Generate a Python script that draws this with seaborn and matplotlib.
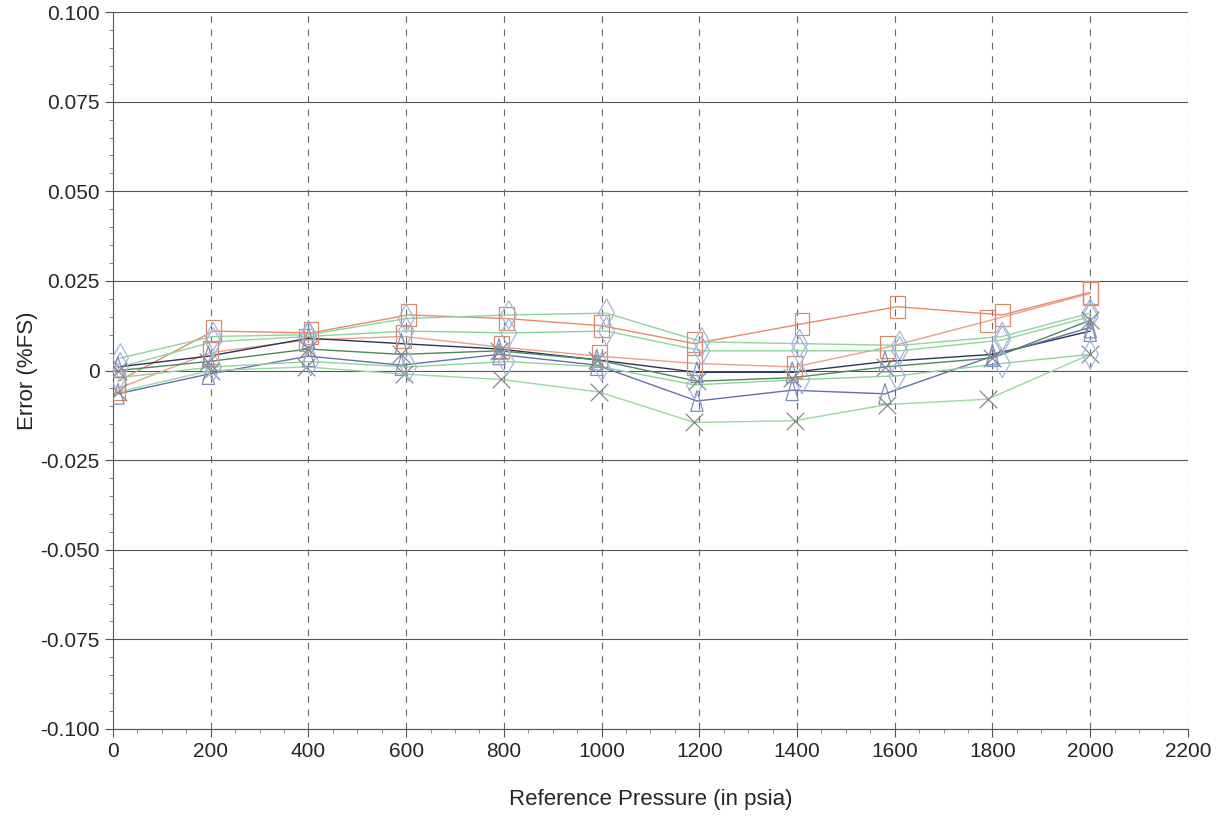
import numpy as np
import pandas as pd
import matplotlib
matplotlib.use("Agg")
import matplotlib.pyplot as plt
from matplotlib.ticker import MultipleLocator, FuncFormatter
import seaborn as sns

# reference pressure points (psia) per run
x_a = [10, 205, 405, 605, 805, 1000, 1190, 1410, 1605, 1820, 2000]
x_b = [10, 200, 395, 595, 795, 995, 1190, 1395, 1585, 1790, 2000]
x_c = [15, 205, 400, 600, 810, 1010, 1205, 1405, 1610, 1820, 2000]
x_d = [10, 195, 400, 590, 790, 990, 1195, 1390, 1580, 1800, 2000]

# error (%FS) per run
err_1 = [-0.003, 0.011, 0.0105, 0.0155, 0.0145, 0.0125, 0.0075, 0.0130, 0.0178, 0.0155, 0.0218]
err_2 = [-0.005, 0.005, 0.0085, 0.0095, 0.0065, 0.0040, 0.0020, 0.0010, 0.0065, 0.0138, 0.0215]
err_3 = [0.0035, 0.0095, 0.0100, 0.0145, 0.0155, 0.0160, 0.0080, 0.0075, 0.0070, 0.0095, 0.0160]
err_4 = [0.0010, 0.0080, 0.0095, 0.0110, 0.0105, 0.0110, 0.0055, 0.0055, 0.0055, 0.0085, 0.0150]
err_5 = [0.0010, 0.0040, 0.0090, 0.0075, 0.0060, 0.0030, -0.0005, -0.0005, 0.0025, 0.0045, 0.0110]
err_6 = [-0.0065, -0.0010, 0.0040, 0.0015, 0.0045, 0.0015, -0.0085, -0.0055, -0.0065, 0.0040, 0.0120]
err_7 = [-0.0060, 0.0000, 0.0010, -0.0010, -0.0025, -0.0060, -0.0145, -0.0140, -0.0095, -0.0080, 0.0045]
err_8 = [-0.0020, 0.0010, 0.0025, 0.0010, 0.0025, 0.0010, -0.0040, -0.0025, -0.0015, 0.0020, 0.0045]
err_9 = [0.0000, 0.0025, 0.0060, 0.0045, 0.0055, 0.0030, -0.0030, -0.0020, 0.0010, 0.0035, 0.0140]

# tall hollow markers like the scanned chart
RECT = [(-0.33, -0.5), (0.33, -0.5), (0.33, 0.5), (-0.33, 0.5), (-0.33, -0.5)]
DIAM = [(0, -0.5), (0.28, 0), (0, 0.5), (-0.28, 0), (0, -0.5)]
TRI = [(-0.3, -0.5), (0.3, -0.5), (0, 0.5), (-0.3, -0.5)]

runs = [
    (x_a, err_1, "#e8896a", RECT, "#d98a6a", 260),
    (x_b, err_2, "#e8a08a", RECT, "#d98a6a", 260),
    (x_c, err_3, "#8fd49a", DIAM, "#9fb6dc", 420),
    (x_c, err_4, "#8fd49a", DIAM, "#9fb6dc", 420),
    (x_d, err_5, "#2a3355", TRI, "#8090b8", 220),
    (x_d, err_6, "#6670a8", TRI, "#8090b8", 220),
    (x_b, err_7, "#9ad8a4", "x", "#888888", 160),
    (x_a, err_8, "#8fd49a", DIAM, "#9fb6dc", 420),
    (x_d, err_9, "#4a8a5a", "x", "#888888", 160),
]


def main():
    sns.set_style("white")
    plt.rcParams["font.family"] = ["Liberation Sans", "DejaVu Sans"]

    fig = plt.figure(figsize=(12.17, 8.36), dpi=100)
    ax = fig.add_axes([0.0929, 0.128, 0.8832, 0.8576])

    for xs, ys, lc, mk, mc, sz in runs:
        df = pd.DataFrame({"x": xs, "y": ys})
        sns.lineplot(data=df, x="x", y="y", ax=ax, color=lc, lw=1.0,
                     sort=False, estimator=None)
        ax.scatter(df["x"], df["y"], marker=mk, s=sz,
                   facecolors="none" if mk != "x" else mc, edgecolors=mc,
                   linewidths=0.9, zorder=3)

    ax.set_xlim(0, 2200)
    ax.set_ylim(-0.1, 0.1)
    ax.xaxis.set_major_locator(MultipleLocator(200))
    ax.xaxis.set_minor_locator(MultipleLocator(50))
    ax.yaxis.set_major_locator(MultipleLocator(0.025))
    ax.yaxis.set_minor_locator(MultipleLocator(0.005))
    ax.yaxis.set_major_formatter(FuncFormatter(lambda v, p: "0" if abs(v) < 1e-9 else f"{v:.3f}"))

    ax.grid(False)
    for v in np.arange(-0.1, 0.1001, 0.025):
        ax.axhline(v, color="#555555", lw=0.8, zorder=0)
    for v in range(200, 2201, 200):
        ax.axvline(v, color="#666666", lw=0.8, ls=(0, (6, 6)), zorder=0)

    for s in ["top", "right"]:
        ax.spines[s].set_visible(False)
    for s in ["left", "bottom"]:
        ax.spines[s].set_color("#555555")
        ax.spines[s].set_linewidth(0.8)

    ax.tick_params(which="major", direction="out", length=6, width=0.8,
                   color="#555555", labelsize=15, left=True, bottom=True)
    ax.tick_params(which="minor", direction="out", length=3, width=0.6,
                   color="#777777", left=True, bottom=True)

    ax.set_xlabel("Reference Pressure (in psia)", fontsize=16, labelpad=20)
    ax.set_ylabel("Error (%FS)", fontsize=16, labelpad=2)

    fig.savefig("out.png", dpi=100, facecolor="white")
    plt.close(fig)


if __name__ == "__main__":
    main()
